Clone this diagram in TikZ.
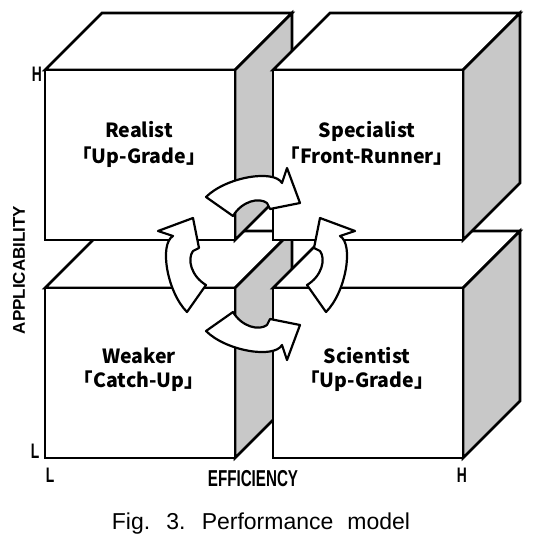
\documentclass[tikz,border=0pt]{standalone}
\usepackage{fontspec}
\setmainfont{Noto Sans CJK KR}
\newfontfamily\axisfont[FakeStretch=0.66]{Liberation Sans}
\newfontfamily\sidefont{Liberation Sans}
\newfontfamily\capfont[WordSpace=2.2]{Liberation Sans}
\definecolor{sidegrey}{RGB}{200,200,200}

\tikzset{
  cubeline/.style={line width=2.6pt, draw=black},
  growarrow/.style={line width=2.2pt, draw=black, fill=white, line join=round},
  quadname/.style={anchor=base, inner sep=0pt, font=\bfseries\fontsize{19.5}{21}\selectfont},
  axislabel/.style={inner sep=0pt, font=\axisfont\bfseries\fontsize{21}{22}\selectfont},
  cyclearrow/.pic={
    \filldraw[growarrow] (-48,-67) .. controls (-28,-87) and (20,-95) .. (28,-81)
      -- (33,-96) -- (46,-61) -- (16,-55) -- (13,-61)
      .. controls (5,-67) and (-12,-63) .. (-21,-48) -- cycle;
  }
}

\begin{document}
\begin{tikzpicture}[x=1pt, y=-1pt]
  \useasboundingbox (0,0) rectangle (540,542);

  % cubes, back ones first
  \foreach \x/\y in {45/288, 273/288, 45/70, 273/70} {
    \filldraw[cubeline, fill=white] (\x,\y) -- ++(57,-57) -- ++(190,0) -- ++(-57,57) -- cycle;
    \filldraw[cubeline, fill=sidegrey] (\x+190,\y) -- ++(57,-57) -- ++(0,170) -- ++(-57,57) -- cycle;
    \filldraw[cubeline, fill=white] (\x,\y) rectangle ++(190,170);
  }

  % turning arrows
  \pic at (254,264) {cyclearrow};
  \pic[yscale=-1] at (254,264) {cyclearrow};
  \pic[rotate=90] at (254,264) {cyclearrow};
  \pic[xscale=-1, rotate=90] at (259,264) {cyclearrow};

  \node[quadname] (realist) at (139,137) {Realist};
  \node[quadname] (realist-mode) at (139,163) {「Up-Grade」};
  \node[quadname] (specialist) at (367,137) {Specialist};
  \node[quadname] (specialist-mode) at (367,163) {「Front-Runner」};
  \node[quadname] (weaker) at (139,363) {Weaker};
  \node[quadname] (weaker-mode) at (139,387) {「Catch-Up」};
  \node[quadname] (scientist) at (367,363) {Scientist};
  \node[quadname] (scientist-mode) at (367,387) {「Up-Grade」};

  \node[axislabel] (app-high) at (37,74) {H};
  \node[axislabel] (app-low) at (35,451) {L};
  \node[axislabel] (eff-low) at (50,475) {L};
  \node[axislabel] (eff-high) at (462,475) {H};
  \node[axislabel, font=\axisfont\bfseries\fontsize{23}{24}\selectfont] (eff) at (253,479) {EFFICIENCY};
  \node[rotate=90, inner sep=0pt, font=\sidefont\bfseries\fontsize{17}{18}\selectfont] (app) at (19,270) {APPLICABILITY};

  \node[inner sep=0pt, font=\capfont\fontsize{23}{24}\selectfont] (caption) at (261,524) {Fig. 3. Performance model};
\end{tikzpicture}
\end{document}
